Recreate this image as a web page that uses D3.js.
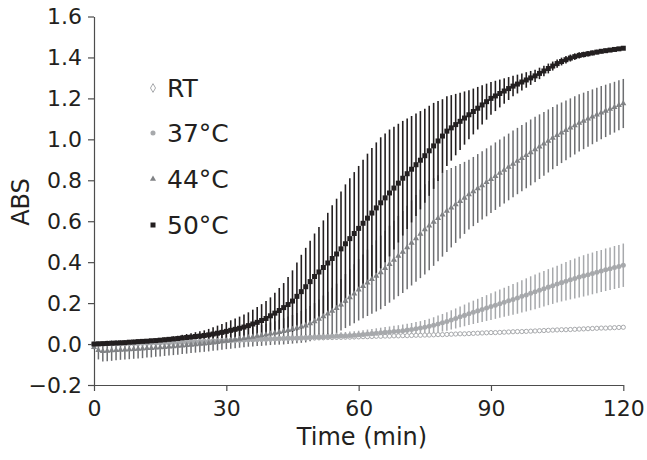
<!DOCTYPE html>
<html><head><meta charset="utf-8">
<script src="https://cdn.jsdelivr.net/npm/d3@7"></script>
<style>
html,body{margin:0;padding:0;background:#fff;}
text{font-family:"DejaVu Sans",Verdana,sans-serif;fill:#231f20;}
</style></head>
<body><svg id="c" width="647" height="460"></svg>
<script>
// time (min)
const times = [0,1,2,3,4,5,6,7,8,9,10,11,12,13,14,15,16,17,18,19,20,21,22,23,24,25,26,27,28,29,30,31,32,33,34,35,36,37,38,39,40,41,42,43,44,45,46,47,48,49,50,51,52,53,54,55,56,57,58,59,60,61,62,63,64,65,66,67,68,69,70,71,72,73,74,75,76,77,78,79,80,81,82,83,84,85,86,87,88,89,90,91,92,93,94,95,96,97,98,99,100,101,102,103,104,105,106,107,108,109,110,111,112,113,114,115,116,117,118,119,120];
const seriesNames = ["RT","37°C","44°C","50°C"];
const xTicks = [0,30,60,90,120];
const yTicks = [-0.2,0,0.2,0.4,0.6,0.8,1.0,1.2,1.4,1.6];

const valRT = [0.000,0.001,0.001,0.002,0.002,0.003,0.003,0.004,0.004,0.005,0.005,
0.006,0.006,0.007,0.007,0.008,0.008,0.009,0.009,0.010,0.011,
0.011,0.012,0.012,0.013,0.014,0.014,0.015,0.016,0.017,0.018,
0.018,0.019,0.020,0.020,0.021,0.022,0.022,0.023,0.024,0.024,
0.025,0.025,0.026,0.027,0.027,0.028,0.028,0.029,0.030,0.030,
0.031,0.031,0.032,0.032,0.033,0.033,0.034,0.034,0.035,0.035,
0.036,0.036,0.037,0.038,0.038,0.039,0.039,0.040,0.040,0.041,
0.041,0.042,0.043,0.043,0.044,0.044,0.045,0.046,0.046,0.047,
0.048,0.049,0.050,0.050,0.051,0.052,0.053,0.054,0.055,0.056,
0.056,0.057,0.058,0.059,0.060,0.061,0.061,0.062,0.063,0.064,
0.065,0.066,0.067,0.068,0.069,0.070,0.070,0.071,0.072,0.073,
0.074,0.075,0.076,0.077,0.078,0.078,0.079,0.080,0.081,0.082];

const val37 = [0.000,0.000,0.001,0.001,0.001,0.002,0.002,0.002,0.003,0.003,0.003,
0.004,0.004,0.005,0.005,0.005,0.006,0.006,0.007,0.007,0.008,
0.009,0.009,0.010,0.011,0.012,0.012,0.013,0.014,0.015,0.016,
0.017,0.018,0.019,0.020,0.021,0.021,0.022,0.023,0.024,0.025,
0.026,0.027,0.028,0.029,0.030,0.030,0.031,0.032,0.033,0.034,
0.035,0.036,0.037,0.038,0.039,0.040,0.041,0.042,0.043,0.045,
0.047,0.049,0.051,0.053,0.055,0.057,0.059,0.061,0.063,0.065,
0.068,0.071,0.075,0.078,0.082,0.087,0.092,0.098,0.104,0.110,
0.118,0.125,0.133,0.140,0.148,0.155,0.162,0.169,0.176,0.183,
0.190,0.197,0.204,0.211,0.218,0.225,0.233,0.240,0.248,0.255,
0.263,0.270,0.278,0.285,0.293,0.300,0.307,0.314,0.320,0.327,
0.333,0.339,0.345,0.351,0.357,0.363,0.368,0.374,0.379,0.385];
const err37 = [0,0.005,0.005,0.005,0.005,0.005,0.005,0.006,0.006,0.006,0.006,
0.006,0.007,0.007,0.007,0.007,0.008,0.008,0.008,0.008,0.009,
0.009,0.009,0.009,0.010,0.010,0.010,0.010,0.011,0.011,0.011,
0.011,0.012,0.012,0.012,0.012,0.013,0.013,0.013,0.013,0.014,
0.014,0.014,0.014,0.015,0.015,0.015,0.015,0.016,0.016,0.016,
0.016,0.017,0.017,0.017,0.018,0.018,0.018,0.019,0.019,0.020,
0.021,0.022,0.023,0.024,0.025,0.026,0.027,0.028,0.029,0.030,
0.031,0.032,0.033,0.034,0.035,0.037,0.039,0.041,0.043,0.045,
0.047,0.049,0.051,0.053,0.055,0.057,0.059,0.061,0.063,0.065,
0.067,0.069,0.071,0.073,0.075,0.077,0.079,0.081,0.083,0.085,
0.086,0.087,0.088,0.089,0.090,0.092,0.094,0.096,0.098,0.100,
0.101,0.102,0.102,0.103,0.103,0.104,0.104,0.105,0.105,0.106];

const val44 = [-0.015,-0.030,-0.035,-0.034,-0.032,-0.030,
-0.029,-0.028,-0.027,-0.025,-0.024,
-0.023,-0.021,-0.020,-0.018,-0.017,
-0.015,-0.013,-0.012,-0.010,-0.008,
-0.006,-0.004,-0.002,0.000,0.002,
0.004,0.007,0.009,0.012,0.015,
0.018,0.021,0.025,0.028,0.032,
0.035,0.039,0.042,0.046,0.050,
0.054,0.058,0.062,0.067,0.072,
0.078,0.084,0.090,0.100,0.110,
0.122,0.135,0.148,0.161,0.175,
0.192,0.210,0.228,0.246,0.265,
0.282,0.299,0.316,0.333,0.350,
0.370,0.390,0.410,0.430,0.450,
0.472,0.494,0.516,0.538,0.560,
0.578,0.596,0.614,0.632,0.650,
0.666,0.682,0.698,0.714,0.730,
0.745,0.760,0.775,0.790,0.805,
0.820,0.835,0.850,0.865,0.880,
0.894,0.908,0.922,0.936,0.950,
0.964,0.978,0.992,1.006,1.020,
1.032,1.044,1.056,1.068,1.080,
1.090,1.100,1.110,1.120,1.130,
1.139,1.148,1.157,1.166,1.175];
const err44 = [0.010,0.045,0.050,0.050,0.050,0.049,
0.048,0.048,0.047,0.047,0.046,
0.046,0.045,0.045,0.044,0.044,
0.043,0.043,0.042,0.042,0.041,
0.041,0.040,0.040,0.040,0.040,
0.040,0.040,0.040,0.040,0.040,
0.041,0.042,0.043,0.044,0.045,
0.047,0.049,0.051,0.053,0.055,
0.058,0.061,0.064,0.067,0.070,
0.074,0.078,0.082,0.086,0.090,
0.096,0.102,0.108,0.114,0.120,
0.126,0.132,0.138,0.144,0.150,
0.156,0.162,0.168,0.174,0.180,
0.184,0.188,0.192,0.196,0.200,
0.204,0.208,0.212,0.216,0.220,
0.218,0.214,0.210,0.205,0.200,
0.194,0.188,0.182,0.176,0.170,
0.169,0.168,0.167,0.166,0.165,
0.165,0.164,0.164,0.163,0.163,
0.162,0.162,0.161,0.161,0.160,
0.158,0.156,0.154,0.152,0.150,
0.148,0.146,0.144,0.142,0.140,
0.138,0.136,0.134,0.132,0.130,
0.128,0.126,0.124,0.122,0.120];

const val50 = [0.000,0.001,0.002,0.003,0.004,0.005,
0.006,0.007,0.009,0.010,0.012,
0.013,0.014,0.016,0.017,0.019,
0.021,0.023,0.025,0.027,0.030,
0.032,0.034,0.037,0.039,0.042,
0.045,0.049,0.053,0.057,0.062,
0.067,0.072,0.077,0.083,0.090,
0.098,0.106,0.115,0.125,0.138,
0.151,0.164,0.178,0.193,0.210,
0.233,0.256,0.280,0.305,0.330,
0.352,0.374,0.396,0.418,0.440,
0.465,0.490,0.515,0.540,0.565,
0.590,0.615,0.640,0.665,0.690,
0.714,0.738,0.762,0.786,0.810,
0.832,0.854,0.876,0.898,0.920,
0.944,0.968,0.992,1.016,1.040,
1.056,1.072,1.088,1.104,1.120,
1.136,1.152,1.168,1.184,1.200,
1.212,1.224,1.236,1.248,1.260,
1.270,1.280,1.290,1.300,1.310,
1.322,1.334,1.346,1.358,1.370,
1.380,1.389,1.397,1.404,1.410,
1.414,1.418,1.422,1.426,1.430,
1.433,1.436,1.439,1.442,1.445];
const err50 = [0.000,0.005,0.005,0.005,0.005,0.005,
0.005,0.005,0.005,0.005,0.005,
0.006,0.007,0.008,0.009,0.010,
0.011,0.012,0.013,0.014,0.015,
0.017,0.019,0.021,0.023,0.025,
0.029,0.033,0.037,0.041,0.045,
0.049,0.053,0.057,0.061,0.065,
0.070,0.075,0.080,0.085,0.090,
0.100,0.110,0.120,0.135,0.150,
0.165,0.180,0.190,0.200,0.210,
0.220,0.230,0.245,0.260,0.270,
0.280,0.290,0.295,0.300,0.305,
0.310,0.315,0.318,0.320,0.320,
0.315,0.310,0.300,0.290,0.280,
0.270,0.260,0.250,0.240,0.230,
0.220,0.210,0.195,0.180,0.170,
0.160,0.150,0.140,0.130,0.120,
0.112,0.104,0.096,0.088,0.080,
0.074,0.068,0.062,0.056,0.050,
0.046,0.042,0.038,0.034,0.030,
0.028,0.026,0.024,0.022,0.020,
0.019,0.018,0.017,0.016,0.015,
0.014,0.013,0.012,0.011,0.010,
0.010,0.009,0.009,0.008,0.008];

const svg = d3.select("#c");
const x = d3.scaleLinear().domain([0,120]).range([94,623.3]);
const y = d3.scaleLinear().domain([-0.2,1.6]).range([385,16.5]);

// axes
const gx = svg.append("g").attr("transform","translate(0,385)")
  .call(d3.axisBottom(x).tickValues(xTicks).tickSize(6).tickSizeOuter(0).tickPadding(9));
const gy = svg.append("g").attr("transform","translate(94,0)")
  .call(d3.axisLeft(y).tickValues(yTicks).tickFormat(d3.format(".1f")).tickSize(6).tickSizeOuter(0).tickPadding(6));
[gx,gy].forEach(g=>{
  g.selectAll("path,line").attr("stroke","#4d4d4d").attr("stroke-width",1.2);
  g.selectAll("text").style("font-size","22px").attr("fill","#231f20");
});

// error bars
function bars(vals, errs, color, w){
  svg.append("g").selectAll("line").data(times).join("line")
    .attr("x1",(t)=>x(t)).attr("x2",(t)=>x(t))
    .attr("y1",(t,i)=>y(vals[i]+errs[i])).attr("y2",(t,i)=>y(vals[i]-errs[i]))
    .attr("stroke",color).attr("stroke-width",w);
}
bars(val37, err37, "#a7a9ac", 1.5);
bars(val44, err44, "#6d6e71", 1.5);
bars(val50, err50, "#231f20", 1.6);

// markers
const sym = (type,size)=>d3.symbol().type(type).size(size)();
function markers(vals, type, size, fill, stroke, sw){
  svg.append("g").selectAll("path").data(times).join("path")
    .attr("transform",(t,i)=>`translate(${x(t)},${y(vals[i])})`)
    .attr("d",sym(type,size))
    .attr("fill",fill).attr("stroke",stroke).attr("stroke-width",sw);
}
markers(valRT, d3.symbolCircle, 14, "#fff", "#a7a9ac", 1);
markers(val37, d3.symbolCircle, 20, "#a7a9ac", "none", 0);
markers(val44, d3.symbolTriangle, 16, "#808285", "none", 0);
markers(val50, d3.symbolSquare, 25, "#231f20", "none", 0);

// legend
const leg = svg.append("g");
const legY = [88,133,179,225];
const legSym = [[d3.symbolDiamond,22,"#fff","#a7a9ac",1],[d3.symbolCircle,20,"#a7a9ac","none",0],[d3.symbolTriangle,16,"#808285","none",0],[d3.symbolSquare,25,"#231f20","none",0]];
seriesNames.forEach((n,i)=>{
  const s = legSym[i];
  leg.append("path").attr("transform",`translate(153,${legY[i]})`).attr("d",sym(s[0],s[1]))
    .attr("fill",s[2]).attr("stroke",s[3]).attr("stroke-width",s[4]);
  leg.append("text").attr("x",167).attr("y",legY[i]+9).style("font-size","25px").text(n);
});

// axis titles
svg.append("text").attr("x",362).attr("y",445).attr("text-anchor","middle").style("font-size","24px").text("Time (min)");
svg.append("text").attr("transform","translate(29,202) rotate(-90)").attr("text-anchor","middle").style("font-size","24px").text("ABS");
</script></body></html>
